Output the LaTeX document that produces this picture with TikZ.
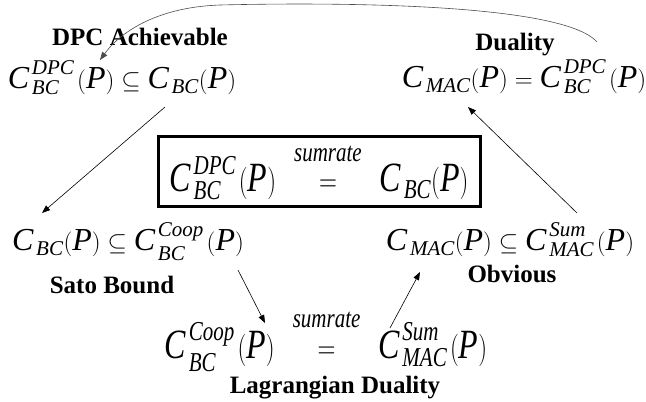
\documentclass[tikz,border=0pt]{standalone}
\usepackage{amsmath}
\usepackage{amssymb}
\usepackage{graphicx}
\usepackage{fontspec}
\setmainfont{Liberation Serif}
\usetikzlibrary{arrows.meta,positioning,calc}
\DeclareMathSizes{32}{32}{21}{16}
\newcommand{\capac}[2]{{\textit{C}\mkern2mu}_{\textit{#1}}^{\textit{#2}}\mkern2mu(\textit{P})}
\newcommand{\capsub}[1]{{\textit{C}\mkern2mu}_{\textit{#1}}(\textit{P})}
\newcommand{\igsum}{\mkern8mu\mathrel{\overset{\raisebox{8pt}{$\scriptstyle\textit{sumrate}$}}{=}}\mkern8mu}
\newcommand{\alto}[1]{\scalebox{1}[1.3]{#1}}
\tikzset{
  formula/.style={font=\fontsize{32}{36}\selectfont,inner sep=0pt,anchor=base},
  rotulo/.style={font=\fontsize{25}{28}\selectfont\bfseries,inner sep=0pt,anchor=base},
  flecha/.style={-{Triangle[length=8pt,width=6pt]},draw=black,line width=0.6pt},
  caja/.style={font=\fontsize{32}{36}\selectfont,draw=black,line width=3pt,
               minimum width=322pt,minimum height=70pt,inner sep=0pt},
}
\begin{document}
\begin{tikzpicture}[x=1pt,y=-1pt]
\useasboundingbox (0,0) rectangle (646,402);

\node[rotulo]  (achv) at (140,45)  {DPC Achievable};
\node[formula] (f1)   at (122,88)  {$\capac{BC}{DPC} \subseteq \capsub{BC}$};
\node[rotulo]  (dual) at (515,50)  {Duality};
\node[formula] (f2)   at (524,87)  {$\capsub{MAC} = \capac{BC}{DPC}$};
\node[caja]    (box)  at (319,171) {\alto{$\capac{BC}{DPC}\igsum\capsub{BC}$}};
\node[formula] (f3)   at (128,250) {$\capsub{BC} \subseteq \capac{BC}{Coop}$};
\node[rotulo]  (sato) at (112,293) {Sato Bound};
\node[formula] (f4)   at (510,250) {$\capsub{MAC} \subseteq \capac{MAC}{Sum}$};
\node[rotulo]  (obv)  at (512,282) {Obvious};
\node[formula] (f5)   at (326,358) {\alto{$\capac{BC}{Coop}\igsum\capac{MAC}{Sum}$}};
\node[rotulo]  (lagr) at (335,393) {Lagrangian Duality};

\coordinate (cima) at (220,5);
\draw[flecha,draw=black!70] ($(f2.base)+(73,-45)$) .. controls (560,0) and (300,3) .. (cima)
      .. controls (160,7) and (122,30) .. ($(f1.base)+(-22,-28)$);
\draw[flecha] ($(f1.base)+(43,19)$)  -- ($(f3.base)+(-86,-37)$);
\draw[flecha] ($(f3.base)+(110,20)$) -- ($(f5.base)+(-61,-35)$);
\draw[flecha] ($(f5.base)+(64,-30)$) -- ($(f4.base)+(-90,22)$);
\draw[flecha] ($(f4.base)+(67,-37)$) -- ($(f2.base)+(-56,20)$);

\end{tikzpicture}
\end{document}
